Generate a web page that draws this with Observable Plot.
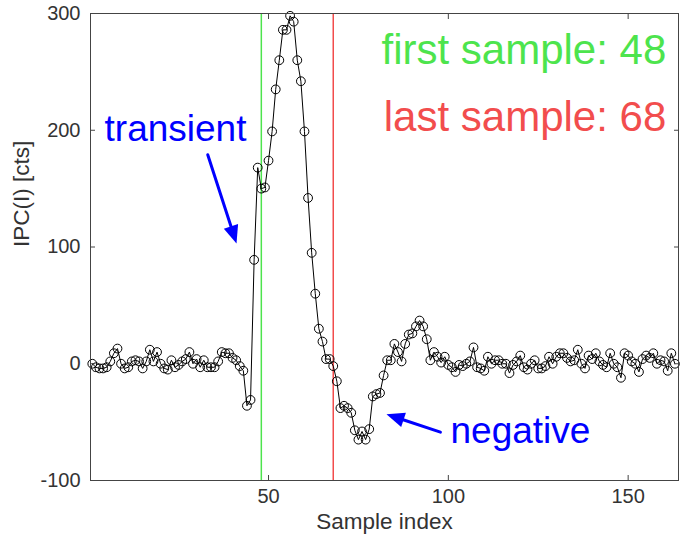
<!DOCTYPE html>
<html>
<head>
<meta charset="utf-8">
<script src="https://cdn.jsdelivr.net/npm/d3@7"></script>
<script src="https://cdn.jsdelivr.net/npm/@observablehq/plot@0.6"></script>
<style>
  html, body { margin: 0; padding: 0; background: #fff; }
  #chart { width: 680px; height: 537px; }
</style>
</head>
<body>
<div id="chart"></div>
<script>
// ---- data ----
const sampleValues = [
  0, -3, -4, -4, -3, 2, 9, 13, 0, -4,
  -3, 2, 3, 2, -4, 2, 12, 2, 10, 0,
  -4, -5, 3, -3, -1, 2, 4, 10, 0, 4,
  -3, 3, -3, -3, -3, 2, 10, 9, 9, 5,
  3, -2, -6, -36, -31, 89, 168, 150, 151, 174,
  199, 235, 260, 286, 286, 298, 293, 260, 242, 199,
  142, 95, 60, 30, 19, 4, 4, -2, -15, -38,
  -36, -38, -42, -57, -65, -58, -65, -56, -28, -26,
  -25, -10, 3, 3, 17, 10, 2, 17, 25, 26,
  32, 37, 32, 21, 3, 10, 6, 1, 6, -1,
  -3, -7, -1, -2, 0, 2, 14, -3, -4, -6,
  6, 0, 3, 3, 0, 0, -8, -1, 2, 7,
  -3, -5, 0, 3, -4, -4, -2, 6, 0, 6,
  9, 9, 5, 2, 3, 12, 0, -4, 7, 4,
  9, 2, -1, -3, 9, 0, -3, -12, 9, 7,
  2, 0, -7, 4, 7, 5, 9, 0, 3, 2,
  -6, 9, 0
];
const xTicks = [50, 100, 150];
const yTicks = [-100, 0, 100, 200, 300];
const xLabel = "Sample index";
const yLabel = "IPC(I) [cts]";
const firstSample = 48;
const lastSample = 68;
const legendLabels = ["first sample: 48", "last sample: 68"];
const annotationLabels = ["transient", "negative"];

// ---- styles ----
const green = "#4de44d";
const red = "#f24d4d";
const blue = "#0000ff";
const axisColor = "#333333";
const font = "'Liberation Sans', Arial, Helvetica, sans-serif";

const data = sampleValues.map((v, i) => ({sample: i + 1, value: v}));

// annotation placements (data coordinates)
const legendRows = [
  {text: legendLabels[0], x: 160.6, y: 257, color: green},
  {text: legendLabels[1], x: 160.6, y: 199, color: red}
];
const noteRows = [
  {text: annotationLabels[0], x: 4.4, y: 191},
  {text: annotationLabels[1], x: 100.6, y: -68}
];
const arrowRows = [
  {x1: 33.1, y1: 179, x2: 41.1, y2: 103},
  {x1: 97.8, y1: -58.6, x2: 82.8, y2: -43.2}
];

function filledArrow(rows) {
  return Plot.arrow(rows, {
    x1: "x1", y1: "y1", x2: "x2", y2: "y2",
    stroke: blue, strokeWidth: 3, headLength: 0, insetEnd: 12,
    render(index, scales, values, dims, ctx, next) {
      const g = next(index, scales, values, dims, ctx);
      const {x1: X1, y1: Y1, x2: X2, y2: Y2} = values;
      for (const i of index) {
        const x1 = X1[i], y1 = Y1[i], x2 = X2[i], y2 = Y2[i];
        const dx = x2 - x1, dy = y2 - y1, L = Math.hypot(dx, dy);
        const ux = dx / L, uy = dy / L;
        const hl = 18, hw = 7.5;
        const bx = x2 - ux * hl, by = y2 - uy * hl;
        const p = document.createElementNS("http://www.w3.org/2000/svg", "path");
        p.setAttribute("d", `M${x2},${y2}L${bx - uy * hw},${by + ux * hw}L${bx + uy * hw},${by - ux * hw}Z`);
        p.setAttribute("fill", blue);
        p.setAttribute("stroke", "none");
        g.appendChild(p);
      }
      return g;
    }
  });
}

const chart = Plot.plot({
  width: 680,
  height: 537,
  marginLeft: 90,
  marginRight: 2,
  marginTop: 13,
  marginBottom: 57,
  style: {fontFamily: font, fontSize: "20px", color: axisColor, background: "#fff"},
  x: {domain: [0.5, 164]},
  y: {domain: [-100, 300]},
  marks: [
    Plot.ruleX([firstSample], {stroke: green, strokeWidth: 1.5}),
    Plot.ruleX([lastSample], {stroke: red, strokeWidth: 1.5}),
    Plot.line(data, {x: "sample", y: "value", stroke: "#000", strokeWidth: 1}),
    Plot.dot(data, {x: "sample", y: "value", r: 4.4, stroke: "#000", strokeWidth: 1, fill: "none"}),
    Plot.frame({stroke: "#444", strokeWidth: 1}),
    Plot.axisX(xTicks, {anchor: "bottom", tickSize: -5, tickPadding: 13, fontSize: 20, stroke: "#444",
      tickFormat: d => String(d), label: null}),
    Plot.axisX(xTicks, {anchor: "top", tickSize: -5, tickFormat: () => "", label: null, stroke: "#444"}),
    Plot.axisY(yTicks, {anchor: "left", tickSize: -5, tickPadding: 15, fontSize: 20, stroke: "#444",
      tickFormat: d => String(d), label: null}),
    Plot.axisY(yTicks, {anchor: "right", tickSize: -5, tickFormat: () => "", label: null, stroke: "#444"}),
    Plot.text([xLabel], {frameAnchor: "bottom", dy: 48, lineAnchor: "bottom", fontSize: 22.5, fill: axisColor}),
    Plot.text([yLabel], {frameAnchor: "left", dx: -69, rotate: -90, lineAnchor: "middle", fontSize: 22.5, fill: axisColor}),
    Plot.text(legendRows, {x: "x", y: "y", text: "text", fill: "color", textAnchor: "end",
      lineAnchor: "bottom", fontSize: 42}),
    Plot.text(noteRows, {x: "x", y: "y", text: "text", fill: blue, textAnchor: "start",
      lineAnchor: "bottom", fontSize: 37}),
    filledArrow(arrowRows)
  ]
});
document.getElementById("chart").appendChild(chart);
</script>
</body>
</html>
